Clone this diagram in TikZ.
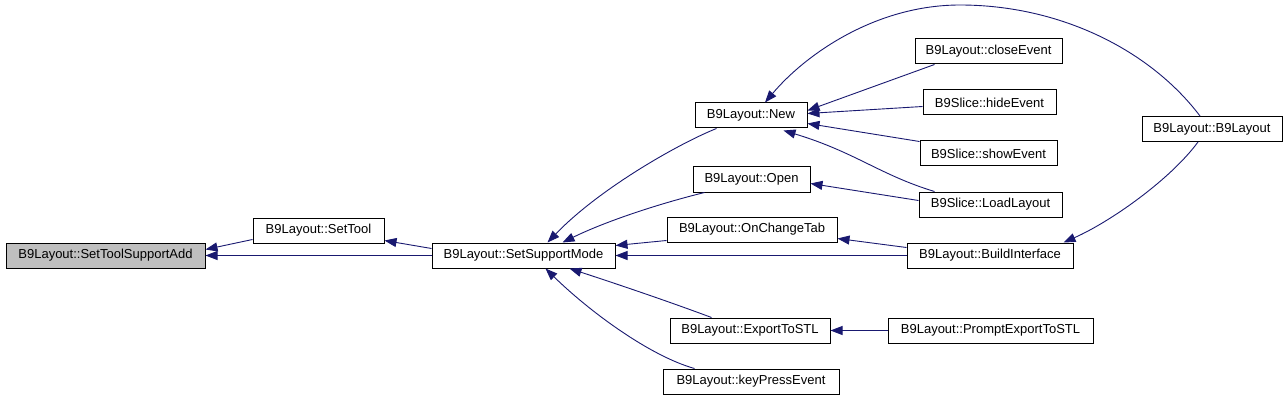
\documentclass[tikz,border=0pt]{standalone}
\usepackage{fontspec}
\setmainfont{Liberation Sans}
\usetikzlibrary{arrows.meta,calc}
\definecolor{edgeblue}{HTML}{191970}
\definecolor{rootgray}{HTML}{BFBFBF}
\tikzset{
  fn/.style={draw=black,line width=1pt,fill=white,minimum height=25pt,inner sep=0pt,font=\fontsize{13}{15}\selectfont,text=black},
  rootfn/.style={fn,fill=rootgray},
  edge/.style={draw=edgeblue,line width=0.9pt,-{Triangle[length=12pt,width=9pt]}}
}
\begin{document}
\begin{tikzpicture}[x=1pt,y=-1pt]
\useasboundingbox (0,0) rectangle (1288,401);
\node[rootfn,minimum width=199pt] (root) at (105.5,255.5) {B9Layout::SetToolSupportAdd};
\node[fn,minimum width=131pt] (settool) at (318.5,230.5) {B9Layout::SetTool};
\node[fn,minimum width=183pt] (ssm) at (523.5,255.5) {B9Layout::SetSupportMode};
\node[fn,minimum width=112pt] (new) at (751,115.5) {B9Layout::New};
\node[fn,minimum width=117pt] (open) at (751.5,179.5) {B9Layout::Open};
\node[fn,minimum width=170pt] (oct) at (752,229.5) {B9Layout::OnChangeTab};
\node[fn,minimum width=160pt] (exp) at (750,330.5) {B9Layout::ExportToSTL};
\node[fn,minimum width=176pt] (key) at (751,381.5) {B9Layout::keyPressEvent};
\node[fn,minimum width=147pt] (close) at (988.5,51.5) {B9Layout::closeEvent};
\node[fn,minimum width=133pt] (hide) at (989.5,102.5) {B9Slice::hideEvent};
\node[fn,minimum width=137pt] (show) at (988.5,153.5) {B9Slice::showEvent};
\node[fn,minimum width=143pt] (load) at (990.5,204.5) {B9Slice::LoadLayout};
\node[fn,minimum width=140pt] (b9) at (1212,129) {B9Layout::B9Layout};
\node[fn,minimum width=166pt] (build) at (990,255.5) {B9Layout::BuildInterface};
\node[fn,minimum width=205pt] (prompt) at (990.5,330.5) {B9Layout::PromptExportToSTL};

\draw[edge] ($(settool.south west)+(0,-4)$) -- ($(root.north east)+(0,7)$);
\draw[edge] (ssm.west) -- (root.east);
\draw[edge] ($(ssm.north west)+(0,6)$) -- ($(settool.south east)+(0,-3)$);
\draw[edge] ($(new.south west)+(22,0)$) .. controls (680,143) and (600,188) .. ($(ssm.north)+(24,0)$);
\draw[edge] ($(open.south west)+(12,0)$) .. controls (650,206) and (600,224) .. ($(ssm.north)+(39,0)$);
\draw[edge] ($(oct.south west)+(0,-2)$) -- ($(ssm.north east)+(0,3)$);
\draw[edge] (build.west) -- (ssm.east);
\draw[edge] ($(exp.north west)+(42,0)$) .. controls (670,302) and (620,285) .. ($(ssm.south)+(46,0)$);
\draw[edge] ($(key.north west)+(32,0)$) .. controls (650,356) and (590,312) .. ($(ssm.south)+(22,0)$);
\draw[edge] ($(b9.north)+(-12,0)$) .. controls (1150,50) and (1060,5) .. (960,5) .. controls (875,5) and (805,55) .. ($(new.north)+(14,0)$);
\draw[edge] ($(close.south west)+(20,0)$) -- ($(new.north east)+(0,8)$);
\draw[edge] ($(hide.west)+(0,4)$) -- ($(new.east)+(0,-2)$);
\draw[edge] ($(show.north west)+(0,1)$) -- ($(new.south east)+(0,-5)$);
\draw[edge] ($(load.north west)+(16,0)$) .. controls (880,175) and (855,152) .. ($(new.south east)+(-24,2)$);
\draw[edge] ($(load.west)+(0,-4)$) -- ($(open.east)+(0,4)$);
\draw[edge] ($(b9.south)+(-14,0)$) .. controls (1170,180) and (1110,222) .. ($(build.north east)+(-10,0)$);
\draw[edge] ($(build.north west)+(0,5)$) -- ($(oct.south east)+(0,-4)$);
\draw[edge] (prompt.west) -- (exp.east);
\end{tikzpicture}
\end{document}
